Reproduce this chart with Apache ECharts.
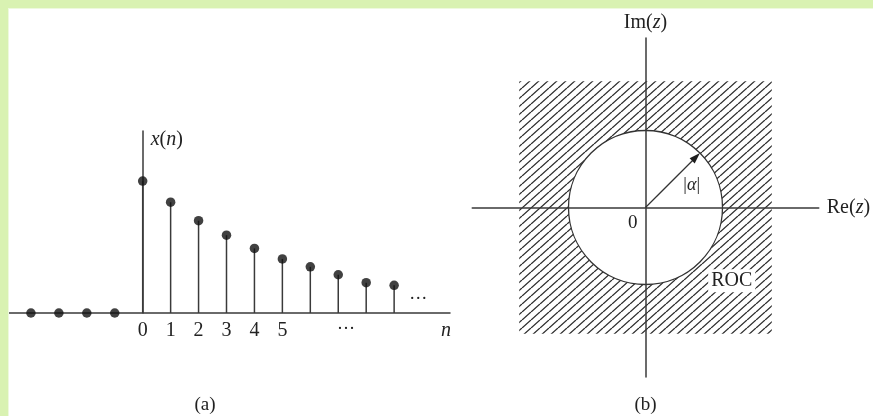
<!DOCTYPE html>
<html>
<head>
<meta charset="utf-8">
<script src="https://cdn.jsdelivr.net/npm/echarts@6/dist/echarts.min.js"></script>
<style>
  html, body { margin: 0; padding: 0; background: #ffffff; }
  #chart { width: 873px; height: 416px; }
</style>
</head>
<body>
<div id="chart"></div>
<script>
// (a) right-sided decaying sequence x(n)
const nNegative = [-4, -3, -2, -1];
const xNegative = [0, 0, 0, 0];
const nPositive = [0, 1, 2, 3, 4, 5, 6, 7, 8, 9];
const xPositive = [1.0, 0.84, 0.70, 0.59, 0.49, 0.41, 0.35, 0.29, 0.23, 0.21];
const nTickLabels = ['0', '1', '2', '3', '4', '5'];

// (b) z-plane: pole radius |α| and half-size of the shaded ROC square
const alphaRadius = [1];
const rocHalfSize = [1.64];

const serif = '"Liberation Serif", "Times New Roman", serif';
const ink = '#222222';
const lineInk = '#3a3a3a';

// diagonal hatch tile for the ROC
function makeHatch() {
  const w = 9, h = 8;
  const c = document.createElement('canvas');
  c.width = w; c.height = h;
  const ctx = c.getContext('2d');
  ctx.strokeStyle = '#2a2a2a';
  ctx.lineWidth = 1.3;
  for (const dx of [-w, 0, w]) {
    ctx.beginPath();
    ctx.moveTo(dx, h);
    ctx.lineTo(dx + w, 0);
    ctx.stroke();
  }
  return c;
}
const hatch = makeHatch();

const chart = echarts.init(document.getElementById('chart'), null, { renderer: 'canvas' });

const hiddenAxis = {
  axisTick: { show: false },
  splitLine: { show: false },
  axisLabel: { show: false }
};

const option = {
  animation: false,
  backgroundColor: '#ffffff',
  grid: [
    { left: 2, top: 131, width: 448, height: 182 },
    { left: 472.25, top: 38.1, width: 346.5, height: 338.8 }
  ],
  xAxis: [
    {
      gridIndex: 0, type: 'value', min: -5, max: 11, interval: 1,
      axisLine: { onZero: true, lineStyle: { color: lineInk, width: 1.5 } },
      axisTick: { show: false },
      splitLine: { show: false },
      axisLabel: {
        margin: 8, fontFamily: serif, fontSize: 20, color: ink,
        formatter: v => (v >= 0 && v < nTickLabels.length) ? nTickLabels[v] : ''
      }
    },
    Object.assign({
      gridIndex: 1, type: 'value', min: -2.25, max: 2.25, z: 10,
      axisLine: { onZero: true, lineStyle: { color: lineInk, width: 1.5 } }
    }, hiddenAxis)
  ],
  yAxis: [
    Object.assign({
      gridIndex: 0, type: 'value', min: 0, max: 1.38,
      axisLine: { show: true, onZero: true, lineStyle: { color: lineInk, width: 1.5 } }
    }, hiddenAxis),
    Object.assign({
      gridIndex: 1, type: 'value', min: -2.2, max: 2.2, z: 10,
      axisLine: { show: true, onZero: true, lineStyle: { color: lineInk, width: 1.5 } }
    }, hiddenAxis)
  ],
  series: [
    // stems
    {
      type: 'custom', xAxisIndex: 0, yAxisIndex: 0,
      data: nPositive.map((n, i) => [n, xPositive[i]]),
      renderItem: (params, api) => {
        const a = api.coord([api.value(0), 0]);
        const b = api.coord([api.value(0), api.value(1)]);
        return {
          type: 'line',
          shape: { x1: a[0], y1: a[1], x2: b[0], y2: b[1] },
          style: { stroke: lineInk, lineWidth: 1.5 }
        };
      }
    },
    // sample dots
    {
      type: 'scatter', xAxisIndex: 0, yAxisIndex: 0,
      symbol: 'circle', symbolSize: 9.5,
      itemStyle: { color: '#111111' },
      z: 5,
      data: nNegative.map((n, i) => [n, xNegative[i]])
        .concat(nPositive.map((n, i) => [n, xPositive[i]]))
    },
    // shaded ROC square
    {
      type: 'custom', xAxisIndex: 1, yAxisIndex: 1, z: 2,
      data: rocHalfSize.map(h => [0, 0, h]),
      encode: { x: 0, y: 1 },
      renderItem: (params, api) => {
        const h = api.value(2);
        const p0 = api.coord([-h, h]);
        const p1 = api.coord([h, -h]);
        return {
          type: 'rect',
          shape: { x: p0[0], y: p0[1], width: p1[0] - p0[0], height: p1[1] - p0[1] },
          style: { fill: { image: hatch, repeat: 'repeat' } }
        };
      }
    },
    // pole circle |z| = |α|
    {
      type: 'custom', xAxisIndex: 1, yAxisIndex: 1, z: 3,
      data: alphaRadius.map(r => [0, 0, r]),
      encode: { x: 0, y: 1 },
      renderItem: (params, api) => {
        const c = api.coord([0, 0]);
        const r = api.size([api.value(2), 0])[0];
        return {
          type: 'circle',
          shape: { cx: c[0], cy: c[1], r: r },
          style: { fill: '#ffffff', stroke: '#333333', lineWidth: 1.3 }
        };
      }
    },
    // radius arrow
    {
      type: 'custom', xAxisIndex: 1, yAxisIndex: 1, z: 12,
      data: alphaRadius.map(r => [0, 0, r]),
      encode: { x: 0, y: 1 },
      renderItem: (params, api) => {
        const r = api.value(2);
        const ang = Math.PI / 4;
        const o = api.coord([0, 0]);
        const t = api.coord([r * Math.cos(ang), r * Math.sin(ang)]);
        const dx = t[0] - o[0], dy = t[1] - o[1];
        const len = Math.hypot(dx, dy);
        const ux = dx / len, uy = dy / len;
        const hl = 11, hw = 3.6;
        const bx = t[0] - ux * hl, by = t[1] - uy * hl;
        return {
          type: 'group',
          children: [
            {
              type: 'line',
              shape: { x1: o[0], y1: o[1], x2: bx + ux * 2, y2: by + uy * 2 },
              style: { stroke: '#333333', lineWidth: 1.3 }
            },
            {
              type: 'polygon',
              shape: { points: [[t[0], t[1]], [bx - uy * hw, by + ux * hw], [bx + uy * hw, by - ux * hw]] },
              style: { fill: '#1e1e1e' }
            }
          ]
        };
      }
    }
  ]
};

chart.setOption(option);

// annotations placed in data coordinates
const toA = p => chart.convertToPixel({ gridIndex: 0 }, p);
const toB = p => chart.convertToPixel({ gridIndex: 1 }, p);

function label(pos, text, extra) {
  return {
    type: 'text', x: pos[0], y: pos[1], z: 20,
    style: Object.assign({
      text: text, fontFamily: serif, fontSize: 20, fill: ink,
      align: 'center', verticalAlign: 'middle',
      rich: {
        i: { fontFamily: serif, fontSize: 20, fontStyle: 'italic', fill: ink },
        r: { fontFamily: serif, fontSize: 20, fill: ink }
      }
    }, extra || {})
  };
}

const yTop = toA([0, 1.38]);
const aDotsLow = toA([7.28, 0]);
const aDotsHigh = toA([9.86, 0.106]);
const aEnd = toA([11, 0]);
const origin = toB([0, 0]);
const reEnd = toB([2.25, 0]);
const imEnd = toB([0, 2.2]);
const alphaPos = toB([0.6, 0.29]);
const zeroPos = toB([-0.165, -0.2]);
const rocPos = toB([1.12, -0.95]);

chart.setOption({
  graphic: [
    // frame
    { type: 'rect', z: 30, shape: { x: 0, y: 0, width: 873, height: 8 }, style: { fill: '#d9f2b2' } },
    { type: 'rect', z: 30, shape: { x: 0, y: 0, width: 8, height: 416 }, style: { fill: '#d9f2b2' } },
    { type: 'rect', z: 30, shape: { x: 8, y: 8, width: 865, height: 1 }, style: { fill: '#eef9de' } },
    { type: 'rect', z: 30, shape: { x: 8, y: 9, width: 1, height: 407 }, style: { fill: '#eef9de' } },

    // (a)
    label([yTop[0] + 8, yTop[1] + 9], '{i|x}{r|(}{i|n}{r|)}', { align: 'left' }),
    label([aDotsLow[0], aDotsLow[1] + 11], '\u2026', { fontSize: 18 }),
    label([aDotsHigh[0], aDotsHigh[1] - 5], '\u2026', { fontSize: 18 }),
    label([aEnd[0] - 4, aEnd[1] + 18], '{i|n}'),
    label([205, 405], '(a)', { fontSize: 19 }),

    // (b)
    label([imEnd[0], imEnd[1] - 15], '{r|Im(}{i|z}{r|)}'),
    label([reEnd[0] + 8, reEnd[1]], '{r|Re(}{i|z}{r|)}', { align: 'left' }),
    label(zeroPos, '0', { fontSize: 19 }),
    label(alphaPos, '{r||}{i|\u03b1}{r||}', {
      rich: {
        i: { fontFamily: serif, fontSize: 18, fontStyle: 'italic', fill: ink },
        r: { fontFamily: serif, fontSize: 18, fill: ink }
      }
    }),
    label(rocPos, 'ROC', { fontSize: 20, backgroundColor: '#ffffff', padding: [2, 3, 1, 3] }),
    label([origin[0], 405], '(b)', { fontSize: 19 })
  ]
});
</script>
</body>
</html>
